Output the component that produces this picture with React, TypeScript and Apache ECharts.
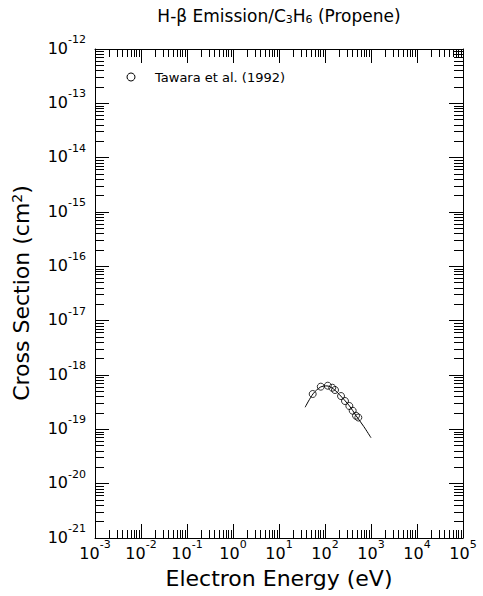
import React, { useEffect, useRef } from "react";
import * as echarts from "echarts";

// ---- data ----
const tawaraEnergy = [54, 81, 115, 144, 165, 223, 272, 338, 400, 472, 530];
const tawaraSigma = [4.47e-19, 6.1e-19, 6.35e-19, 5.83e-19, 5.29e-19, 4.1e-19, 3.32e-19, 2.69e-19, 2.2e-19, 1.78e-19, 1.65e-19];

const fitEnergy = [37, 55, 80, 110, 150, 220, 340, 470, 700, 1000];
const fitSigma = [2.55e-19, 4.5e-19, 6.0e-19, 6.3e-19, 5.6e-19, 4.1e-19, 2.7e-19, 1.8e-19, 1.12e-19, 7.0e-20];

const xMin = 1e-3;
const xMax = 1e5;
const yMinExp = -21;
const yMaxExp = -12;

const titleText = "H-\u03b2 Emission/C{sub|3}H{sub|6} (Propene)";
const xTitle = "Electron Energy (eV)";
const yTitle = "Cross Section (cm{sup|2})";
const legendLabel = "Tawara et al. (1992)";

const FONT = "DejaVu Sans";

// the y values are handed to the log axis in units of 10^yMinExp cm^2 (tiny numbers break the log scale rounding)
const yUnit = Math.pow(10, yMinExp);
const toY = (s: number) => s / yUnit;

const expLabelX = (v: number) => `{b|10}{s|${Math.round(Math.log10(v))}}`;
const expLabelY = (v: number) => `{b|10}{s|${Math.round(Math.log10(v)) + yMinExp}}`;

const labelRich = {
  b: { fontSize: 16, fontFamily: FONT, color: "#000", lineHeight: 22, verticalAlign: "bottom" },
  s: { fontSize: 11, fontFamily: FONT, color: "#000", lineHeight: 11, verticalAlign: "top" },
};

function makeAxis(kind: "x" | "y", primary: boolean, pos: string) {
  const isX = kind === "x";
  return {
    type: "log",
    logBase: 10,
    min: isX ? xMin : 1,
    max: isX ? xMax : Math.pow(10, yMaxExp - yMinExp),
    splitNumber: isX ? 8 : 9,
    position: pos,
    axisLine: { show: true, onZero: false, lineStyle: { color: "#000", width: 1 } },
    axisTick: { show: true, inside: true, length: 14, lineStyle: { color: "#000", width: 1 } },
    minorTick: { show: true, splitNumber: 9, length: isX ? 8 : 9, lineStyle: { color: "#000", width: 1 } },
    splitLine: { show: false },
    minorSplitLine: { show: false },
    axisLabel: primary
      ? {
          show: true,
          formatter: isX ? expLabelX : expLabelY,
          rich: labelRich,
          margin: isX ? 1 : 9,
          padding: isX ? 0 : [0, 0, 8, 0],
          showMinLabel: true,
          showMaxLabel: true,
          hideOverlap: false,
        }
      : { show: false },
  };
}

export default function App() {
  const ref = useRef<HTMLDivElement>(null);
  useEffect(() => {
    if (!ref.current) return;
    const chart = echarts.init(ref.current, null, { renderer: "svg" });
    const option: any = {
      animation: false,
      backgroundColor: "#fff",
      grid: { left: 95, top: 49, width: 368, height: 489, containLabel: false, outerBoundsMode: "none" },
      xAxis: [makeAxis("x", true, "bottom"), makeAxis("x", false, "top")],
      yAxis: [makeAxis("y", true, "left"), makeAxis("y", false, "right")],
      graphic: [
        {
          type: "text",
          x: 279,
          y: 16,
          style: {
            text: titleText,
            align: "center",
            verticalAlign: "middle",
            fontFamily: FONT,
            fontSize: 17,
            fill: "#000",
            rich: {
              sub: { fontSize: 11, fontFamily: FONT, fill: "#000", lineHeight: 11, verticalAlign: "bottom" },
            },
          },
        },
        {
          type: "text",
          x: 279,
          y: 578,
          style: { text: xTitle, align: "center", verticalAlign: "middle", fontFamily: FONT, fontSize: 22, fill: "#000" },
        },
        {
          type: "text",
          x: 21,
          y: 293,
          rotation: Math.PI / 2,
          style: {
            text: yTitle,
            align: "center",
            verticalAlign: "middle",
            fontFamily: FONT,
            fontSize: 22,
            fill: "#000",
            rich: {
              sup: { fontSize: 14, fontFamily: FONT, fill: "#000", lineHeight: 14, verticalAlign: "top" },
            },
          },
        },
        {
          type: "circle",
          shape: { cx: 131, cy: 77, r: 4 },
          style: { fill: "none", stroke: "#000", lineWidth: 1 },
        },
        {
          type: "text",
          x: 155,
          y: 77,
          style: { text: legendLabel, align: "left", verticalAlign: "middle", fontFamily: FONT, fontSize: 13, fill: "#000" },
        },
      ],
      series: [
        {
          name: "fit",
          type: "line",
          xAxisIndex: 0,
          yAxisIndex: 0,
          data: fitEnergy.map((e, i) => [e, toY(fitSigma[i])]),
          showSymbol: false,
          smooth: 0.3,
          lineStyle: { color: "#000", width: 1 },
          silent: true,
          z: 2,
        },
        {
          name: legendLabel,
          type: "scatter",
          xAxisIndex: 0,
          yAxisIndex: 0,
          data: tawaraEnergy.map((e, i) => [e, toY(tawaraSigma[i])]),
          symbol: "circle",
          symbolSize: 7,
          itemStyle: { color: "rgba(0,0,0,0)", borderColor: "#000", borderWidth: 1 },
          z: 3,
        },
      ],
    };
    chart.setOption(option);
    return () => chart.dispose();
  }, []);
  return <div ref={ref} style={{ position: "fixed", left: 0, top: 0, width: 483, height: 596 }} />;
}
